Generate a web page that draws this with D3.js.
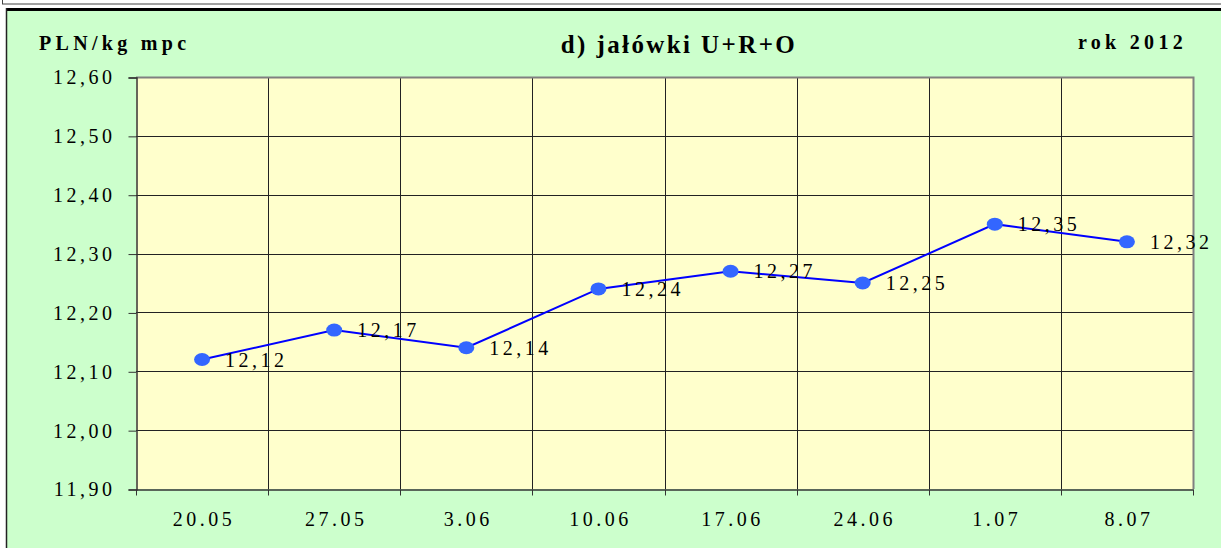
<html>
<head>
<meta charset="utf-8"/>
<title>jałówki U+R+O</title>
<style>
body {margin: 0; background: #fff;}
text {font-family: "Liberation Serif", "Times New Roman", serif; fill: #000;}
</style>
<script src="https://d3js.org/d3.v7.min.js"></script>
</head>
<body>
<div id="chart"></div>
<script>
// data
var dates = ["20.05", "27.05", "3.06", "10.06", "17.06", "24.06", "1.07", "8.07"]
var prices = [12.12, 12.17, 12.14, 12.24, 12.27, 12.25, 12.35, 12.32]
var yTicks = [11.90, 12.00, 12.10, 12.20, 12.30, 12.40, 12.50, 12.60]

var width = 1221, height = 548
var plot = {left: 136, top: 77, right: 1193, bottom: 489}

var svg = d3.select("#chart").append("svg")
  .attr("width", width)
  .attr("height", height)

// outer frames
svg.append("rect").attr("x", 2.5).attr("y", -10).attr("width", 1240).attr("height", 14)
  .attr("fill", "#fff").attr("stroke", "#444").attr("stroke-width", 1)
svg.append("rect").attr("x", 6).attr("y", 8).attr("width", 1230).attr("height", 560)
  .attr("fill", "#ccffcc")
svg.append("line").attr("x1", 6).attr("x2", 1221).attr("y1", 9.5).attr("y2", 9.5)
  .attr("stroke", "#000").attr("stroke-width", 3)
svg.append("line").attr("x1", 6.5).attr("x2", 6.5).attr("y1", 8).attr("y2", 548)
  .attr("stroke", "#222").attr("stroke-width", 1.5)

var x = d3.scaleBand().domain(dates).range([plot.left, plot.right])
var y = d3.scaleLinear().domain([11.90, 12.60]).range([plot.bottom, plot.top])

// plot background
svg.append("rect")
  .attr("x", plot.left).attr("y", plot.top)
  .attr("width", plot.right - plot.left).attr("height", plot.bottom - plot.top)
  .attr("fill", "#ffffcc")

// gridlines
svg.append("g").selectAll("line")
  .data(yTicks.slice(1, -1))
  .join("line")
  .attr("x1", plot.left).attr("x2", plot.right)
  .attr("y1", d => Math.round(y(d)) + 0.5).attr("y2", d => Math.round(y(d)) + 0.5)
  .attr("stroke", "#222")
svg.append("g").selectAll("line")
  .data(dates.slice(1))
  .join("line")
  .attr("x1", d => Math.round(x(d)) + 0.5).attr("x2", d => Math.round(x(d)) + 0.5)
  .attr("y1", plot.top).attr("y2", plot.bottom)
  .attr("stroke", "#222")

// plot border: top/right gray
svg.append("path")
  .attr("d", "M" + plot.left + "," + (plot.top + 0.5) + "H" + (plot.right + 0.5) + "V" + plot.bottom)
  .attr("fill", "none").attr("stroke", "#808080").attr("stroke-width", 2)

// y axis
var yAxis = svg.append("g")
  .attr("transform", "translate(" + (plot.left + 0.5) + ",0.5)")
  .call(d3.axisLeft(y).tickValues(yTicks).tickSize(8).tickPadding(13)
    .tickFormat(d => d3.format(".2f")(d).replace(".", ",")))
yAxis.select(".domain").attr("stroke", "#333").attr("stroke-width", 1.5)
yAxis.selectAll(".tick line").attr("stroke", "#333")
yAxis.selectAll(".tick text")
  .attr("font-size", 20).attr("letter-spacing", 3.5)
  .attr("font-family", "Liberation Serif").attr("fill", "#000")

// x axis
var xAxis = svg.append("g")
  .attr("transform", "translate(0," + (plot.bottom + 0.5) + ")")
  .call(d3.axisBottom(x).tickSize(0).tickPadding(22))
xAxis.select(".domain").attr("stroke", "#333").attr("stroke-width", 1.5)
xAxis.selectAll(".tick text")
  .attr("font-size", 20).attr("letter-spacing", 3.5).attr("dx", 2)
  .attr("font-family", "Liberation Serif").attr("fill", "#000")
xAxis.append("g").selectAll("line")
  .data(dates.concat(["end"]))
  .join("line")
  .attr("x1", (d, i) => Math.round(i < dates.length ? x(d) : plot.right) + 0.5)
  .attr("x2", (d, i) => Math.round(i < dates.length ? x(d) : plot.right) + 0.5)
  .attr("y1", 0).attr("y2", 6)
  .attr("stroke", "#333")

// line + markers
var cx = d => x(d) + x.bandwidth() / 2
svg.append("path")
  .datum(prices)
  .attr("fill", "none")
  .attr("stroke", "#0000ff")
  .attr("stroke-width", 2)
  .attr("d", d3.line().x((d, i) => cx(dates[i])).y(d => y(d)))

svg.append("g").selectAll("ellipse")
  .data(prices)
  .join("ellipse")
  .attr("cx", (d, i) => cx(dates[i]))
  .attr("cy", d => y(d))
  .attr("rx", 8).attr("ry", 6.5)
  .attr("fill", "#3366ff")

// value labels
svg.append("g").selectAll("text")
  .data(prices)
  .join("text")
  .attr("x", (d, i) => cx(dates[i]) + 23)
  .attr("y", d => y(d) + 7)
  .attr("font-size", 20)
  .attr("letter-spacing", 3.5)
  .text(d => d3.format(".2f")(d).replace(".", ","))

// titles
svg.append("text").attr("x", 39).attr("y", 50)
  .attr("font-size", 20).attr("font-weight", "bold").attr("letter-spacing", 4.3)
  .text("PLN/kg mpc")
svg.append("text").attr("x", 679).attr("y", 53).attr("text-anchor", "middle")
  .attr("font-size", 25).attr("font-weight", "bold").attr("letter-spacing", 2.4)
  .text("d) jałówki U+R+O")
svg.append("text").attr("x", 1187).attr("y", 49).attr("text-anchor", "end")
  .attr("font-size", 20).attr("font-weight", "bold").attr("letter-spacing", 4.3)
  .text("rok 2012")
</script>
</body>
</html>
